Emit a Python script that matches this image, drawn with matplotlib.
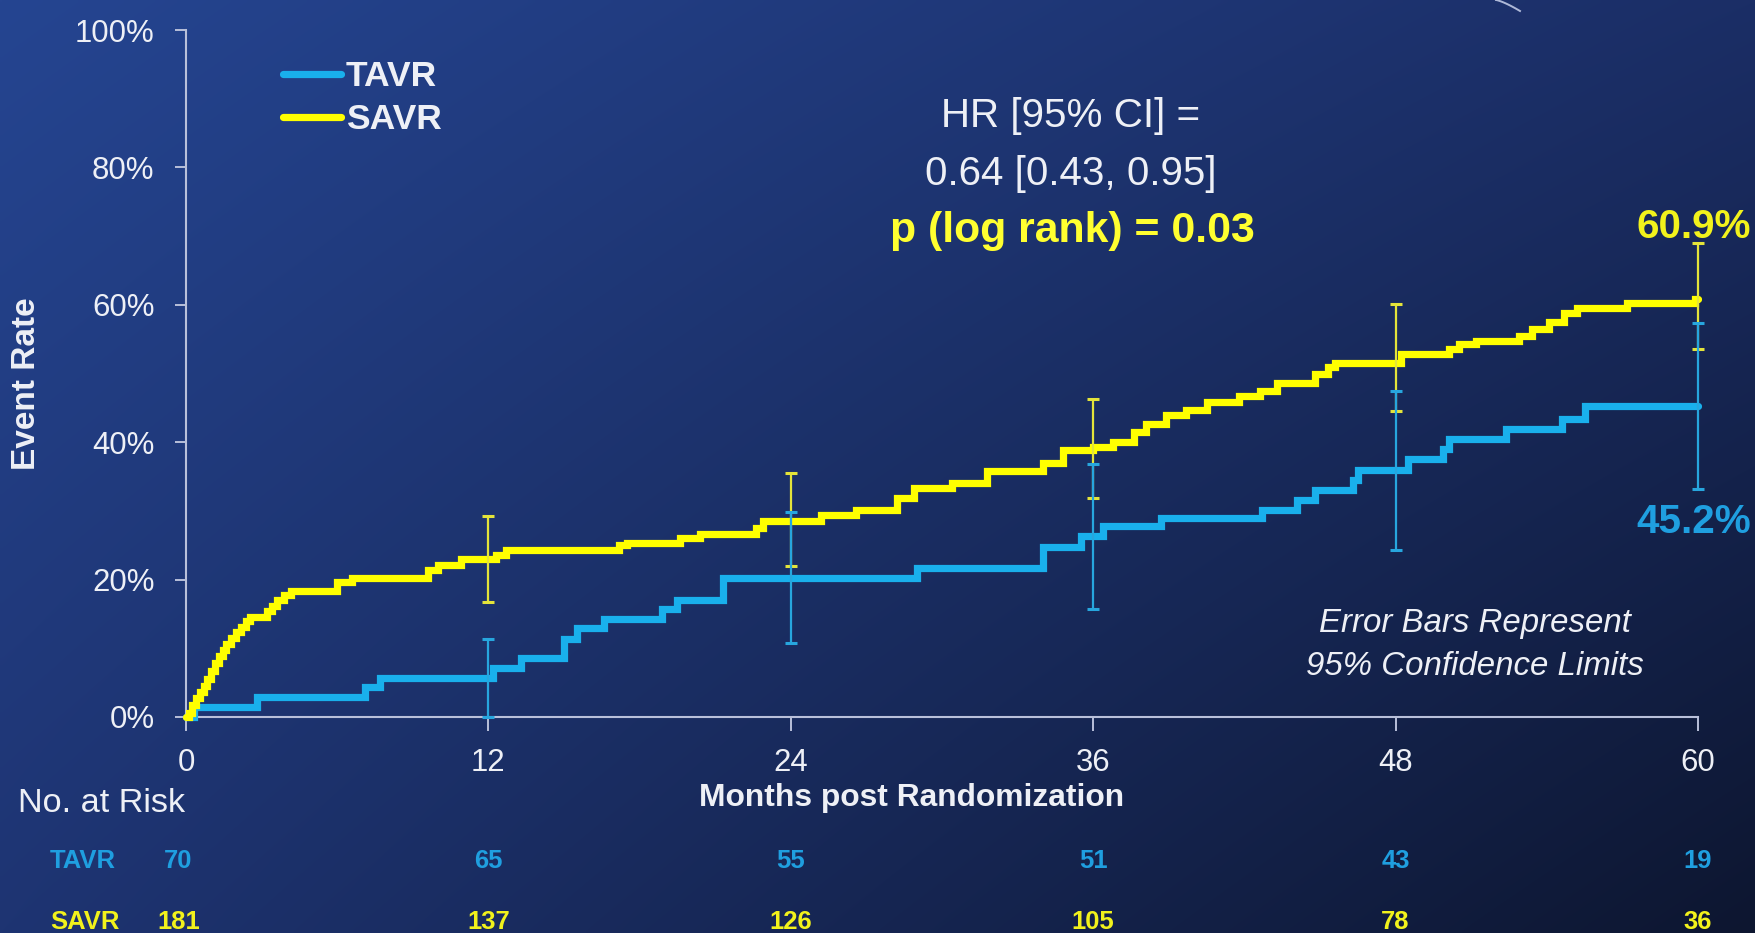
import numpy as np
import matplotlib
matplotlib.use("Agg")
import matplotlib.pyplot as plt
from matplotlib import font_manager as fm
from matplotlib.transforms import blended_transform_factory

# ---------------------------------------------------------------- data
# Kaplan-Meier cumulative event rate (%), step changes at the given months
tavr_t = [0, 0.3, 2.8, 7.1, 7.7, 12.2, 13.3, 15.0, 15.5, 16.6, 18.9, 19.5,
          21.3, 29.0, 34.0, 35.5, 36.4, 38.7, 42.7, 44.1, 44.8, 46.3, 46.5,
          48.5, 49.9, 50.1, 52.4, 54.6, 55.5, 60]
tavr_y = [0, 1.4, 2.9, 4.3, 5.7, 7.1, 8.6, 11.4, 12.9, 14.3, 15.7, 17.1,
          20.3, 21.7, 24.8, 26.3, 27.8, 28.9, 30.2, 31.6, 33.0, 34.5, 36.0,
          37.5, 39.0, 40.4, 41.9, 43.4, 45.2, 45.2]

savr_t = [0, 0.1, 0.25, 0.4, 0.55, 0.7, 0.85, 1.0, 1.15, 1.3, 1.45, 1.6,
          1.8, 2.0, 2.2, 2.4, 2.55, 3.2, 3.4, 3.6, 3.9, 4.15, 6.0, 6.6, 9.6,
          10.0, 10.9, 12.3, 12.7, 17.2, 17.5, 19.6, 20.4, 22.6, 22.9, 25.2,
          26.6, 28.2, 28.9, 30.4, 31.8, 34.0, 34.8, 36.0, 36.8, 37.6, 38.1,
          38.9, 39.7, 40.5, 41.8, 42.6, 43.3, 44.8, 45.3, 45.6, 48.2, 50.1,
          50.5, 51.2, 52.9, 53.4, 54.1, 54.7, 55.2, 57.2, 59.9, 60]
savr_y = [0, 0.6, 1.7, 2.8, 3.6, 4.5, 5.6, 6.7, 7.8, 8.9, 9.8, 10.6,
          11.5, 12.3, 13.1, 14.0, 14.6, 15.4, 16.2, 17.0, 17.7, 18.4, 19.6,
          20.2, 21.4, 22.1, 23.0, 23.6, 24.3, 25.0, 25.4, 26.0, 26.6, 27.5,
          28.6, 29.4, 30.1, 31.9, 33.4, 34.1, 35.8, 37.0, 38.8, 39.3, 40.0,
          41.5, 42.7, 43.9, 44.7, 45.9, 46.7, 47.4, 48.6, 49.9, 51.0, 51.6,
          52.9, 53.6, 54.3, 54.8, 55.5, 56.5, 57.5, 58.8, 59.6, 60.3, 60.9,
          60.9]

# 95% confidence limits at yearly marks
ci_months = [12, 24, 36, 48, 60]
tavr_ci_lo = [0.0, 10.7, 15.7, 24.3, 33.2]
tavr_ci_hi = [11.4, 29.9, 36.8, 47.4, 57.3]
savr_ci_lo = [16.8, 22.0, 31.9, 44.5, 53.6]
savr_ci_hi = [29.3, 35.5, 46.3, 60.1, 69.0]

# numbers at risk
risk_months = [0, 12, 24, 36, 48, 60]
tavr_at_risk = [70, 65, 55, 51, 43, 19]
savr_at_risk = [181, 137, 126, 105, 78, 36]

x_ticks = [0, 12, 24, 36, 48, 60]
y_ticks = [0, 20, 40, 60, 80, 100]

hr_lines = ["HR [95% CI] =", "0.64 [0.43, 0.95]"]
p_text = "p (log rank) = 0.03"

# ---------------------------------------------------------------- style
W, H = 1756, 933
DPI = 100


def have_font(name):
    try:
        fm.findfont(fm.FontProperties(family=name), fallback_to_default=False)
        return True
    except Exception:
        return False


NARROW = "Liberation Sans Narrow" if have_font("Liberation Sans Narrow") else "Liberation Sans"
K = 1.0 if NARROW == "Liberation Sans Narrow" else 0.88
plt.rcParams["font.family"] = [NARROW, "DejaVu Sans"]

BLUE = "#19b0ec"
BLUE_TXT = "#1f9fe0"
YELLOW = "#ffff00"
YELLOW_TXT = "#f2f21c"
WHITE = "#eef0f6"
SPINE = "#b9c0da"


def fx(px):
    return px / W


def fy(py):
    return 1 - py / H


fig = plt.figure(figsize=(W / DPI, H / DPI), dpi=DPI)

# background: diagonal blue gradient
bg = fig.add_axes([0, 0, 1, 1], zorder=-5)
u = np.linspace(0, 1, 400)[None, :, None]
v = np.linspace(0, 1, 220)[:, None, None]
tl = np.array([37, 69, 145]) / 255
tr = np.array([27, 46, 102]) / 255
bl = np.array([30, 52, 114]) / 255
br = np.array([13, 22, 48]) / 255
grad = (tl * (1 - u) * (1 - v) + tr * u * (1 - v) + bl * (1 - u) * v + br * u * v)
bg.imshow(grad, aspect="auto", extent=[0, 1, 0, 1], interpolation="bilinear")
bg.set_axis_off()
# small light arc fragment at the top edge
arc_t = np.linspace(0, 1, 20)
fig.add_artist(plt.Line2D(fx(1496 + 24 * arc_t), fy(0 + 11 * arc_t ** 1.3),
                          color="#c9d2ec", lw=1.4, alpha=0.85))

ax = fig.add_axes([fx(186), fy(717), fx(1698) - fx(186), fy(30) - fy(717)])
ax.patch.set_alpha(0)

ax.set_xlim(0, 60)
ax.set_ylim(0, 100)

l_tavr, = ax.step(tavr_t, tavr_y, where="post", color=BLUE, lw=5.2,
                  solid_capstyle="round", solid_joinstyle="miter", clip_on=False,
                  zorder=3, label="TAVR")
l_savr, = ax.step(savr_t, savr_y, where="post", color=YELLOW, lw=5.2,
                  solid_capstyle="round", solid_joinstyle="miter", clip_on=False,
                  zorder=4, label="SAVR")

for lo, hi, col, z in [(savr_ci_lo, savr_ci_hi, "#e4e43a", 5),
                       (tavr_ci_lo, tavr_ci_hi, "#27a6de", 6)]:
    lo = np.array(lo)
    hi = np.array(hi)
    mid = (lo + hi) / 2
    ax.errorbar(ci_months, mid, yerr=(hi - lo) / 2, fmt="none", ecolor=col,
                elinewidth=1.6, capsize=4.5, capthick=2.2, clip_on=False,
                zorder=z)

for s in ["top", "right"]:
    ax.spines[s].set_visible(False)
for s in ["left", "bottom"]:
    ax.spines[s].set_color(SPINE)
    ax.spines[s].set_linewidth(1.5)

ax.set_xticks(x_ticks)
ax.set_xticklabels([str(t) for t in x_ticks])
ax.set_yticks(y_ticks)
ax.set_yticklabels([f"{t}%" for t in y_ticks])
ax.tick_params(axis="x", length=10, width=1.4, color=SPINE, pad=12,
               labelsize=25.5 * K, labelcolor=WHITE)
ax.tick_params(axis="y", length=7.7, width=1.4, color=SPINE, pad=15,
               labelsize=25.5 * K, labelcolor=WHITE)

# legend
ax.legend(handles=[l_tavr, l_savr], loc="upper left",
          bbox_to_anchor=(fx(283), fy(60)), bbox_transform=fig.transFigure,
          frameon=False, borderpad=0, borderaxespad=0, handlelength=1.64,
          handletextpad=0.14, labelspacing=0.29,
          prop=dict(family=NARROW, weight="bold", size=29 * K),
          labelcolor=WHITE)

# axis titles
fig.text(fx(27), fy(384), "Event Rate", rotation=90, ha="center", va="center",
         family="Liberation Sans", weight="bold", size=24, color=WHITE)
fig.text(fx(912), fy(806), "Months post Randomization", ha="center",
         va="baseline", weight="bold", size=26 * K, color=WHITE)

# hazard ratio block
fig.text(fx(1071), fy(127), hr_lines[0], ha="center", va="baseline",
         size=33 * K, color=WHITE)
fig.text(fx(1071), fy(185), hr_lines[1], ha="center", va="baseline",
         size=33 * K, color=WHITE)
fig.text(fx(1072), fy(242), p_text, ha="center", va="baseline",
         weight="bold", size=35 * K, color="#ffff30")

# final estimates
fig.text(fx(1751), fy(238), f"{savr_y[-1]:.1f}%", ha="right", va="baseline",
         weight="bold", size=33 * K, color=YELLOW_TXT)
fig.text(fx(1751), fy(533), f"{tavr_y[-1]:.1f}%", ha="right", va="baseline",
         weight="bold", size=33 * K, color=BLUE_TXT)

fig.text(fx(1475), fy(632), "Error Bars Represent", ha="center",
         va="baseline", style="italic", size=27 * K, color=WHITE)
fig.text(fx(1475), fy(675), "95% Confidence Limits", ha="center",
         va="baseline", style="italic", size=27 * K, color=WHITE)

# numbers at risk
fig.text(fx(18), fy(812), "No. at Risk", ha="left", va="baseline",
         size=28 * K, color=WHITE)
risk_tr = blended_transform_factory(ax.transData, fig.transFigure)
for name, counts, col, base in [("TAVR", tavr_at_risk, BLUE_TXT, 868),
                                ("SAVR", savr_at_risk, YELLOW_TXT, 929)]:
    fig.text(fx(50), fy(base), name, ha="left", va="baseline", weight="bold",
             size=21 * K, color=col)
    for m, n in zip(risk_months, counts):
        xm = m - 0.3 if m == 0 else m
        ax.text(xm, fy(base), str(n), transform=risk_tr, ha="center",
                va="baseline", weight="bold", size=21 * K, color=col)

fig.savefig("out.png", dpi=DPI)
